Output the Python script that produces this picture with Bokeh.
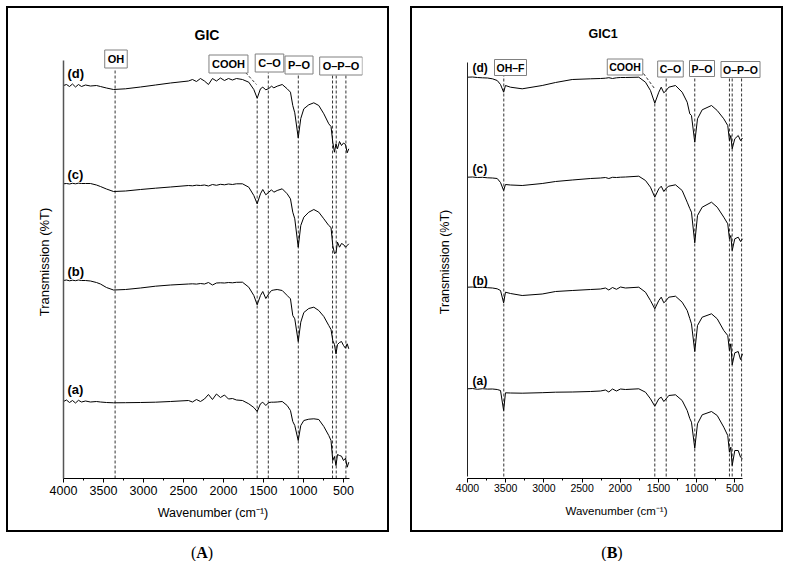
from bokeh.plotting import figure
from bokeh.models import Label, Range1d, SingleIntervalTicker, FixedTicker, Spacer, Div
from bokeh.layouts import row, column
from bokeh.embed import file_html
from bokeh.resources import INLINE

# ---------------- data: panel A (GIC) ----------------
A_WN = [4000, 3963, 3925, 3888, 3850, 3813, 3775, 3725, 3663, 3588,
        3538, 3463, 3375, 3225, 3038, 2850, 2663, 2438, 2388, 2338,
        2288, 2238, 2188, 2138, 2088, 2038, 1988, 1938, 1888, 1838,
        1763, 1684, 1621, 1579, 1538, 1509, 1471, 1434, 1400, 1371,
        1329, 1266, 1204, 1163, 1134, 1109, 1066, 1034, 996, 934,
        871, 809, 746, 684, 656, 634, 613, 594, 575, 550,
        525, 500, 475, 454, 434]
A_D = [393, 394, 392, 394.5, 391.5, 394, 392, 393.5, 392.5, 393,
       392, 390.5, 389, 389.7, 391.5, 393.5, 395.5, 397.5, 399, 397,
       400, 397.5, 394, 400, 397.5, 400.5, 398, 400, 398.5, 400,
       399, 396.3, 389, 380.3, 389.7, 391.3, 388.7, 390, 392.3, 390.7,
       392.3, 394, 389.7, 386.3, 373, 365.7, 340.7, 360, 369.7, 373.7,
       375.7, 373, 364.7, 354.7, 352, 336.3, 326.3, 334.7, 329.7, 337,
       333, 335.5, 334, 325.7, 329.7]
A_C = [294.7, 295, 294.5, 295.2, 294.7, 295.3, 295, 295, 295, 293.5,
       292, 289.5, 287, 287.5, 289, 290.3, 291.5, 293, 292.7, 293.3,
       293, 293.5, 292.5, 294, 293.2, 294.2, 293.7, 294.5, 294, 294.7,
       294.7, 291.3, 283, 274.7, 284.7, 289, 283.7, 286.3, 288.7, 286.3,
       288, 289.7, 284.7, 279.7, 266.3, 259.7, 231.3, 253, 261.3, 266.3,
       269, 266.3, 259.7, 253, 251, 233, 225, 226, 236.3, 231.3,
       235, 234, 231.3, 233, 234.7]
A_B = [198, 198.5, 197.7, 198.3, 197.8, 198.5, 198, 198, 197.5, 196,
       194.5, 191, 188.5, 189, 190.5, 192.3, 193.5, 194.5, 194.7, 194.4,
       195, 194.5, 196, 193.5, 195.5, 195.7, 195.5, 196, 195.7, 196.2,
       196.3, 191.3, 183, 173.7, 183, 187, 180, 184.7, 188, 188.5,
       189, 188, 183, 179.7, 163, 159.7, 137, 156.3, 166, 170,
       171.3, 168, 162, 153, 149, 138, 134, 124.7, 134, 136,
       137, 133, 130.3, 134.7, 129.7]
A_A = [77, 78.5, 76, 78, 75.5, 78.2, 76.5, 77.5, 76.5, 77,
       76.5, 76, 75.7, 75.8, 76, 76.3, 77, 78, 76.5, 79,
       77, 79.5, 84, 79, 84.5, 81, 83.5, 79.5, 80, 78.5,
       78, 74.7, 71, 67, 74.7, 76.3, 73, 76, 76.3, 76.3,
       76.5, 77, 73, 68, 57, 53, 38, 53, 58, 59.3,
       59.7, 59, 52, 43, 38, 18, 22, 13, 24, 23,
       22.3, 18, 20.3, 11.3, 16.3]
A_CURVE_NAMES = ["(a)", "(b)", "(c)", "(d)"]
A_CURVE_LABEL_WN = [3950, 3950, 3950, 3950]
A_CURVE_LABEL_Y = [89, 207, 304, 405.5]
A_PEAK_NAMES = ["OH", "COOH", "C\u2013O", "P\u2013O", "O\u2013P\u2013O"]
A_PEAK_LABEL_WN = [3344, 1938, 1425, 1056, 531]
A_PEAK_LABEL_Y = [419.5, 414.5, 415.5, 413.5, 412.5]
A_PEAK_WN = [3355, 1579, 1440, 1065, 637, 591, 470]
A_PEAK_TOP = [409, 381, 406, 405, 403, 403, 403]
A_LEADER_WN = [1725, 1588]
A_LEADER_Y = [406, 394]

# ---------------- data: panel B (GIC1) ----------------
B_WN = [4000, 3935, 3869, 3804, 3738, 3673, 3611, 3568, 3527, 3503,
        3437, 3284, 3022, 2848, 2629, 2390, 2259, 2194, 2150, 2102,
        2050, 1997, 1932, 1758, 1670, 1605, 1548, 1496, 1464, 1430,
        1399, 1365, 1277, 1190, 1124, 1090, 1068, 1025, 989, 928,
        806, 731, 645, 593, 571, 553, 535, 501, 456, 426,
        400]
B_D = [399.3, 399.5, 399, 398.7, 398.5, 397.7, 396, 392, 384.3, 391,
       389.3, 387.7, 391, 394, 397, 397.7, 398, 398.3, 398.8, 398,
       398.7, 399, 399, 399.3, 394.3, 386, 373.3, 384.3, 389.3, 383.7,
       386, 389.3, 391, 384.3, 374.3, 362.7, 361, 334.3, 357.7, 366.7,
       371, 366, 357.7, 351, 336, 341, 327.7, 337.7, 341, 336,
       338.3]
B_C = [299.3, 299.5, 299, 299.2, 298.7, 298.5, 298, 294, 286, 292,
       291.5, 291, 293, 295, 296.5, 298, 298.5, 299, 298, 299.2,
       299, 299.3, 299.5, 300.3, 296, 289.3, 279.3, 287.7, 290.3, 285,
       288.3, 290.3, 291.7, 286, 274.3, 268, 264.3, 233.7, 261, 269.3,
       274.3, 269.3, 259.3, 252.7, 237.7, 241, 226, 237.7, 239.3, 235,
       237.7]
B_B = [189.3, 189.5, 189, 189.2, 188.8, 188.5, 187.7, 186, 173.7, 184.3,
       183, 181, 182.5, 185, 186, 187, 187.5, 188.5, 186.5, 189,
       187.2, 189.5, 188.5, 189.3, 184.3, 176, 167.7, 176, 179.3, 173.7,
       176, 179.3, 180.3, 174.3, 166, 158, 152.7, 125, 151, 159.3,
       162.7, 157.7, 146, 141, 126, 132.7, 111.7, 123.7, 125, 117,
       122.7]
B_A = [87.7, 88, 87.2, 87.8, 87.4, 87.5, 87, 86, 66, 83.7,
       83.5, 83.3, 83.8, 84.3, 84.5, 85, 85.5, 86.5, 84.5, 87.5,
       85.5, 87.5, 87, 87.7, 84.3, 77.7, 70.3, 77.7, 79.3, 75,
       77.7, 81, 81.7, 76, 66, 58, 54.3, 28.3, 52.7, 61.7,
       65, 61, 49.3, 41, 24.3, 29.3, 11, 26, 26, 19.3,
       17.7]
B_CURVE_NAMES = ["(a)", "(b)", "(c)", "(d)"]
B_CURVE_LABEL_WN = [3935, 3935, 3935, 3935]
B_CURVE_LABEL_Y = [96, 196, 308, 408.5]
B_PEAK_NAMES = ["OH\u2013F", "COOH", "C\u2013O", "P\u2013O", "O\u2013P\u2013O"]
B_PEAK_LABEL_WN = [3437, 1938, 1343, 930, 426]
B_PEAK_LABEL_Y = [409, 409.5, 407.5, 408, 407]
B_PEAK_WN = [3525, 1548, 1399, 1025, 571, 535, 412]
B_PEAK_TOP = [403, 376, 401, 402, 400, 400, 400]
B_LEADER_WN = [1696, 1552]
B_LEADER_Y = [403, 388]

FONT = "Liberation Sans"


def make_panel(cfg, wn, curves, cnames, cl_wn, cl_y, pnames, pl_wn, pl_y,
               peak_wn, peak_top, lead_wn, lead_y, title):
    p = figure(width=cfg["width"], height=cfg["height"],
               x_range=Range1d(4000, cfg["x_end"]),
               y_range=Range1d(cfg["y_bottom"], cfg["y_top"]),
               output_backend="svg", toolbar_location=None,
               min_border_left=cfg["bl"], min_border_right=cfg["br"],
               min_border_top=cfg["bt"], min_border_bottom=cfg["bb"],
               styles={"outline": "2px solid black", "outline-offset": "0px"})
    p.grid.visible = False
    p.outline_line_color = None
    p.background_fill_color = "white"
    p.border_fill_color = "white"

    p.title.text = title
    p.title.align = "left"
    p.title.offset = cfg["title_offset"]
    p.title.text_font = FONT
    p.title.text_font_size = cfg["title_size"]
    p.title.text_font_style = "bold"
    p.title.text_color = "black"
    p.title.standoff = cfg["title_standoff"]

    xa = p.xaxis[0]
    xa.bounds = (cfg["axis_end"], 4000)
    xa.ticker = SingleIntervalTicker(interval=500, num_minor_ticks=2)
    xa.major_tick_in = 0
    xa.major_tick_out = 4
    xa.minor_tick_in = 0
    xa.minor_tick_out = 2
    xa.axis_line_color = "black"
    xa.major_tick_line_color = "black"
    xa.minor_tick_line_color = "black"
    xa.major_label_text_font = FONT
    xa.major_label_text_font_size = cfg["tick_size"]
    xa.major_label_text_color = "black"
    xa.major_label_standoff = cfg["tick_standoff"]
    xa.axis_label = "Wavenumber (cm\u207b\u00b9)"
    xa.axis_label_text_font = FONT
    xa.axis_label_text_font_size = cfg["xlabel_size"]
    xa.axis_label_text_font_style = "normal"
    xa.axis_label_text_color = "black"
    xa.axis_label_standoff = cfg["xlabel_standoff"]

    ya = p.yaxis[0]
    ya.bounds = (0, cfg["axis_top"])
    ya.ticker = FixedTicker(ticks=[])
    ya.major_tick_in = 0
    ya.major_tick_out = 0
    ya.minor_tick_in = 0
    ya.minor_tick_out = 0
    ya.major_label_standoff = 0
    ya.axis_line_color = cfg["yaxis_color"]
    ya.axis_line_width = cfg["yaxis_width"]
    ya.axis_label = "Transmission (%T)"
    ya.axis_label_text_font = FONT
    ya.axis_label_text_font_size = cfg["ylabel_size"]
    ya.axis_label_text_font_style = "normal"
    ya.axis_label_text_color = "black"
    ya.axis_label_standoff = cfg["ylabel_standoff"]

    # dashed marker lines
    p.segment(x0=peak_wn, y0=[0] * len(peak_wn), x1=peak_wn, y1=peak_top,
              line_color="#333333", line_width=1, line_dash="3 2")
    p.line(lead_wn, lead_y, line_color="#333333", line_width=1, line_dash="3 2")

    for yv in curves:
        p.line(wn, yv, line_color="black", line_width=1)

    for name, x, y in zip(cnames, cl_wn, cl_y):
        p.add_layout(Label(x=x, y=y, text=name, text_font=FONT,
                           text_font_size=cfg["curve_size"], text_font_style="bold",
                           text_align="left", text_baseline="middle", text_color="black"))

    for name, x, y in zip(pnames, pl_wn, pl_y):
        p.add_layout(Label(x=x, y=y, text=name, text_font=FONT,
                           text_font_size=cfg["peak_size"], text_font_style="bold",
                           text_align="center", text_baseline="middle", text_color="black",
                           border_line_color="#808080", border_line_width=1,
                           background_fill_color="white", padding=cfg["peak_pad"]))
    return p


cfgA = dict(width=379, height=522, bl=55, br=25, bt=37, bb=52,
            x_end=262.5, axis_end=425, y_bottom=0, y_top=433, axis_top=418,
            tick_size="12.5px", xlabel_size="12.5px", ylabel_size="13px",
            tick_standoff=3, xlabel_standoff=8, ylabel_standoff=12,
            yaxis_color="#555555", yaxis_width=1.5,
            curve_size="13px", peak_size="11px", peak_pad=3,
            title_size="14px", title_standoff=6, title_offset=131)
cfgB = dict(width=369, height=522, bl=55, br=16, bt=37, bb=52,
            x_end=99, axis_end=400, y_bottom=-2, y_top=431, axis_top=414,
            tick_size="10.5px", xlabel_size="11.5px", ylabel_size="12.5px",
            tick_standoff=1, xlabel_standoff=10, ylabel_standoff=16,
            yaxis_color="#222222", yaxis_width=1,
            curve_size="12px", peak_size="10.5px", peak_pad=2,
            title_size="12.5px", title_standoff=9, title_offset=121)

pA = make_panel(cfgA, A_WN, [A_A, A_B, A_C, A_D], A_CURVE_NAMES, A_CURVE_LABEL_WN,
                A_CURVE_LABEL_Y, A_PEAK_NAMES, A_PEAK_LABEL_WN, A_PEAK_LABEL_Y,
                A_PEAK_WN, A_PEAK_TOP, A_LEADER_WN, A_LEADER_Y, "GIC")
pB = make_panel(cfgB, B_WN, [B_A, B_B, B_C, B_D], B_CURVE_NAMES, B_CURVE_LABEL_WN,
                B_CURVE_LABEL_Y, B_PEAK_NAMES, B_PEAK_LABEL_WN, B_PEAK_LABEL_Y,
                B_PEAK_WN, B_PEAK_TOP, B_LEADER_WN, B_LEADER_Y, "GIC1")

letter_style = {"font-family": "Liberation Serif", "font-size": "16px",
                "text-align": "center", "line-height": "36px", "color": "black"}
divA = Div(text="(<b>A</b>)", width=394, height=30, styles=letter_style)
divB = Div(text="(<b>B</b>)", width=382, height=30, styles=letter_style)

layout = column(Spacer(height=8),
                row(Spacer(width=8), pA, Spacer(width=25), pB, spacing=0),
                row(divA, Spacer(width=12), divB, spacing=0),
                spacing=0)
open("out.html", "w").write(file_html(layout, INLINE))
